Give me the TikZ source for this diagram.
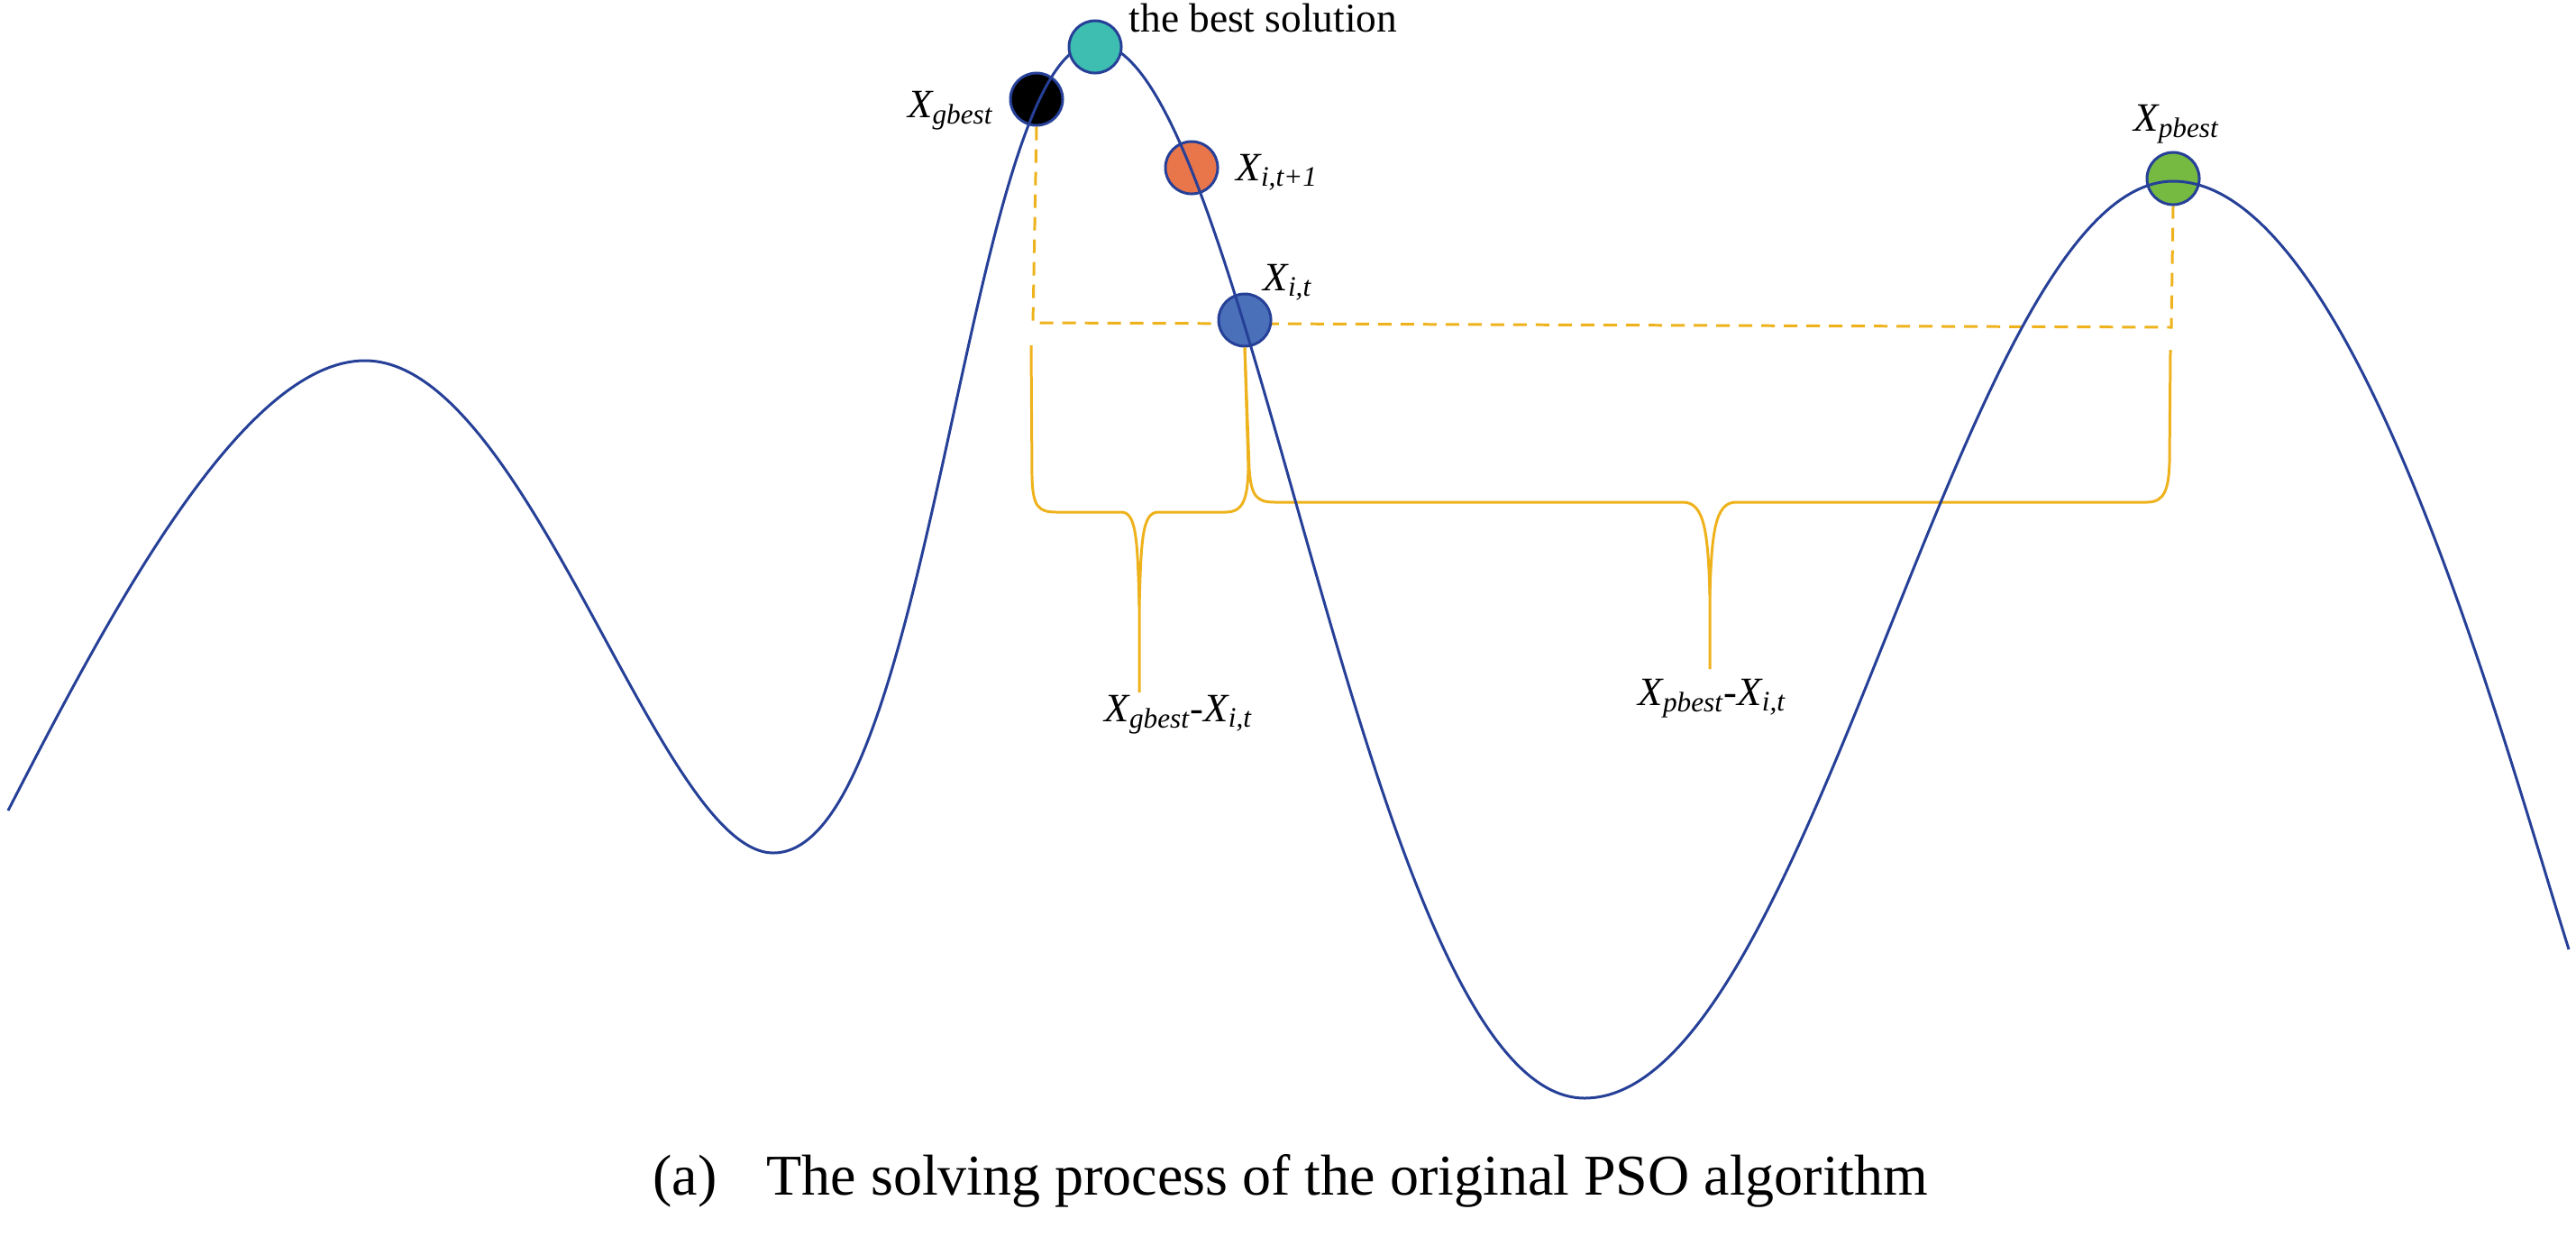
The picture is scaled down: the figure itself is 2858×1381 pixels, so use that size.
\documentclass[tikz,border=0pt]{standalone}
\usepackage{fontspec}
\setmainfont{Liberation Serif}
\usetikzlibrary{backgrounds}
\definecolor{curveblue}{RGB}{38,64,152}
\definecolor{gold}{RGB}{238,178,28}
\definecolor{tealc}{RGB}{62,190,176}
\definecolor{orangec}{RGB}{233,117,74}
\definecolor{bluec}{RGB}{75,112,186}
\definecolor{greenc}{RGB}{118,186,66}
\begin{document}
\begin{tikzpicture}[x=0.01cm,y=-0.01cm,
  curve/.style={draw=curveblue,line width=0.85pt},
  dashline/.style={draw=gold,line width=0.85pt,dash pattern=on 0.15cm off 0.1cm},
  bracel/.style={draw=gold,line width=0.85pt},
  dot/.style={circle,draw=curveblue,line width=0.85pt,minimum size=0.58cm,inner sep=0pt},
  lab/.style={inner sep=0pt,font=\fontsize{12.7}{14}\selectfont\itshape},
  caption/.style={inner sep=0pt,font=\fontsize{18.2}{20}\selectfont}]
\useasboundingbox (0,0) rectangle (2858,1381);
% particles (drawn below the curve)
\node[dot,fill=black]   (gb) at (1150,110) {};
\node[dot,fill=orangec] (xn) at (1322,186) {};
\node[dot,fill=bluec]   (xi) at (1381,355) {};
\node[dot,fill=greenc]  (pb) at (2411,198) {};
% dashed guides (behind the particles)
\coordinate (cL) at (1146,358);
\coordinate (cR) at (2409,363);
\begin{pgfonlayer}{background}
\draw[dashline] (gb.south) -- (cL) -- (cR) -- (pb.south);
\end{pgfonlayer}
% braces
\coordinate (tipA) at (1264,768);
\coordinate (tipB) at (1897,742);
\draw[bracel] (1144,383) -- (1145,530) .. controls (1146,562) and (1152,568) .. (1172,568)
  -- (1244,568) .. controls (1261,568) and (1262,600) .. (1264,672) -- (tipA);
\draw[bracel] (1285,568) .. controls (1267,568) and (1266,600) .. (1264,672);
\draw[bracel] (1285,568) -- (1360,568) .. controls (1380,568) and (1384,552) .. (1385,520) -- (xi.south);
\draw[bracel] (xi.south) -- (1386,520) .. controls (1388,550) and (1394,557) .. (1414,557)
  -- (1867,557) .. controls (1891,557) and (1895,590) .. (1897,660) -- (tipB);
\draw[bracel] (1926,557) .. controls (1903,557) and (1899,590) .. (1897,660);
\draw[bracel] (1926,557) -- (2382,557) .. controls (2402,557) and (2406,542) .. (2407,512) -- (2408,388);
% objective function curve
\coordinate (S)  at (9,899);
\coordinate (P1) at (405,400);
\coordinate (T1) at (858,946);
\coordinate (P2) at (1215,48);
\coordinate (T2) at (1758,1218);
\coordinate (P3) at (2411,201);
\coordinate (E)  at (2850,1053);
\draw[curve] (S) .. controls (123,677) and (270,400) .. (P1)
  .. controls (586,400) and (731,946) .. (T1)
  .. controls (1036,946) and (1072,48) .. (P2)
  .. controls (1387,48) and (1513,1218) .. (T2)
  .. controls (2012,1218) and (2175,201) .. (P3)
  .. controls (2611,201) and (2775,814) .. (E);
% best solution on top
\node[dot,fill=tealc] (bs) at (1215,52) {};
% labels
\node[inner sep=0pt,anchor=base west,font=\fontsize{12.9}{14}\selectfont] (tbs) at (1252,35) {the best solution};
\node[lab,anchor=base east] (lgb) at (1103,130) {X\textsubscript{gbest}};
\node[lab,anchor=base west] (lxn) at (1371,200) {X\textsubscript{i,t+1}};
\node[lab,anchor=base west] (lxi) at (1401,322) {X\textsubscript{i,t}};
\node[lab,anchor=base] (lpb) at (2415,145) {X\textsubscript{pbest}};
\node[lab,anchor=base west] (dg) at (1225,800) {X\textsubscript{gbest}-X\textsubscript{i,t}};
\node[lab,anchor=base west] (dp) at (1817,782) {X\textsubscript{pbest}-X\textsubscript{i,t}};
\node[caption,anchor=base] (cap) at (1432,1325) {(a)\hspace{0.55cm}The solving process of the original PSO algorithm};
\end{tikzpicture}
\end{document}
